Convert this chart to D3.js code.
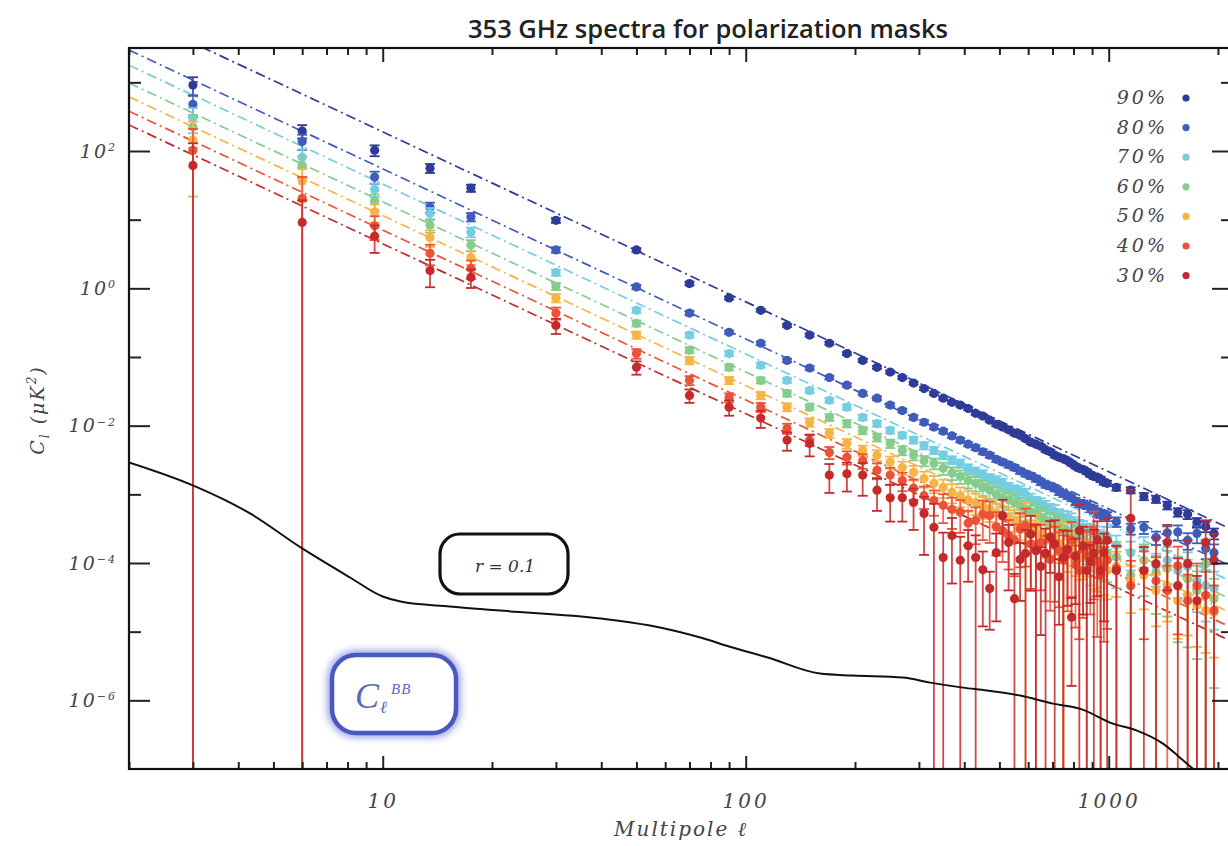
<!DOCTYPE html>
<html><head><meta charset="utf-8">
<script src="https://cdn.jsdelivr.net/npm/d3@7/dist/d3.min.js"></script>
<style>
body{margin:0;background:#fff;}
svg{display:block;}
</style></head>
<body><svg id="chart" width="1228" height="846"></svg>
<script>
// ---------------- data ----------------
const title = "353 GHz spectra for polarization masks";
const maskLabels = ["90%","80%","70%","60%","50%","40%","30%"];
const colors = ["#2e3b98","#3f5cbc","#74cde0","#86cc8c","#f6b444","#ec5236","#c42a2a"];

// multipole bin centres
const ells = [3,6,9.5,13.5,17.5,30,50,70,90,110,130,150,170,190,210,230,250,270,290,310,330,
  350,370,390,410,430,450,470,490,510,530,550,570,590,610,630,650,670,690,710,730,750,770,790,810,830,850,870,890,910,930,950,970,990,
  1050,1150,1250,1350,1450,1550,1650,1750,1850,1950];

// log10 of C_ell [uK^2] per mask
const log10Cl_90 = [2.96,2.29,2.01,1.75,1.46,0.99,0.56,0.07,-0.14,-0.32,-0.54,-0.68,-0.80,-0.95,-1.05,-1.15,-1.22,-1.30,-1.38,-1.46,-1.53,
  -1.60,-1.66,-1.70,-1.75,-1.82,-1.86,-1.92,-1.98,-2.02,-2.06,-2.11,-2.14,-2.19,-2.24,-2.27,-2.30,-2.35,-2.38,-2.43,-2.46,-2.48,-2.51,-2.55,-2.59,-2.62,-2.64,-2.67,-2.71,-2.74,-2.75,-2.78,-2.82,-2.84,
  -2.90,-2.94,-3.03,-3.07,-3.16,-3.26,-3.29,-3.41,-3.47,-3.57];
const log10Cl_80 = [2.68,2.14,1.62,1.18,1.04,0.56,0.02,-0.36,-0.64,-0.80,-1.05,-1.16,-1.30,-1.41,-1.53,-1.60,-1.70,-1.78,-1.88,-1.95,-2.02,
  -2.08,-2.15,-2.21,-2.27,-2.32,-2.38,-2.43,-2.49,-2.53,-2.57,-2.61,-2.66,-2.70,-2.73,-2.77,-2.82,-2.86,-2.88,-2.91,-2.96,-2.99,-3.02,-3.05,-3.10,-3.13,-3.14,-3.16,-3.20,-3.22,-3.26,-3.28,-3.30,-3.32,
  -3.40,-3.50,-3.48,-3.63,-3.56,-3.55,-3.67,-3.57,-3.79,-3.85];
const log10Cl_70 = [2.48,1.91,1.44,1.09,0.82,0.23,-0.32,-0.68,-0.95,-1.12,-1.34,-1.49,-1.63,-1.73,-1.88,-1.97,-2.07,-2.14,-2.21,-2.29,-2.36,
  -2.43,-2.50,-2.55,-2.62,-2.67,-2.71,-2.77,-2.80,-2.84,-2.90,-2.94,-2.96,-3.00,-3.07,-3.12,-3.14,-3.18,-3.23,-3.25,-3.31,-3.34,-3.35,-3.38,-3.44,-3.48,-3.50,-3.54,-3.55,-3.58,-3.64,-3.67,-3.60,-3.61,
  -3.74,-3.85,-3.79,-4.04,-3.96,-4.11,-4.05,-4.26,-4.33,-4.37];
const log10Cl_60 = [2.35,1.79,1.27,0.92,0.63,0.03,-0.51,-0.90,-1.15,-1.34,-1.53,-1.73,-1.88,-1.97,-2.07,-2.17,-2.26,-2.36,-2.43,-2.51,-2.55,
  -2.62,-2.69,-2.74,-2.80,-2.84,-2.90,-2.94,-3.00,-3.05,-3.08,-3.12,-3.17,-3.21,-3.25,-3.28,-3.33,-3.37,-3.41,-3.44,-3.46,-3.50,-3.55,-3.57,-3.62,-3.64,-3.66,-3.70,-3.74,-3.76,-3.77,-3.80,-3.84,-3.86,
  -3.91,-4.18,-3.96,-4.14,-4.08,-4.33,-4.23,-4.40,-4.01,-4.52];
const log10Cl_50 = [2.16,1.56,1.11,0.74,0.45,-0.14,-0.68,-1.05,-1.34,-1.56,-1.73,-1.95,-2.11,-2.26,-2.36,-2.43,-2.53,-2.61,-2.68,-2.77,-2.84,
  -2.90,-2.97,-3.02,-3.08,-3.12,-3.17,-3.21,-3.27,-3.31,-3.33,-3.38,-3.44,-3.50,-3.53,-3.45,-3.58,-3.67,-3.64,-3.60,-3.71,-3.79,-3.83,-3.74,-3.88,-3.93,-3.90,-3.85,-3.97,-4.01,-4.03,-3.96,-4.06,-4.11,
  -4.05,-4.26,-4.18,-4.40,-4.33,-4.55,-4.47,-4.62,-4.69,-4.72];
const log10Cl_40 = [2.01,1.31,0.91,0.51,0.29,-0.36,-0.95,-1.34,-1.59,-1.73,-2.04,-2.21,-2.39,-2.46,-2.51,-2.65,-2.72,-2.80,-2.91,-3.02,-3.09,
  -3.16,-3.22,-3.26,-3.42,-3.38,-3.29,-3.31,-3.47,-3.53,-3.60,-3.67,-3.51,-3.45,-3.72,-3.79,-3.70,-3.86,-3.95,-3.74,-3.82,-3.96,-3.88,-3.67,-4.02,-4.11,-3.80,-3.89,-3.75,-3.53,-3.98,-4.18,-4.05,-3.96,
  -4.08,-4.33,-4.11,-4.26,-4.40,-4.04,-4.55,-4.33,-4.47,-4.69];
const log10Cl_30 = [1.79,0.96,0.76,0.26,0.16,-0.54,-1.15,-1.56,-1.73,-1.89,-2.21,-2.26,-2.72,-2.70,-2.72,-2.94,-3.05,-3.05,-3.12,-3.28,-3.48,
  -3.92,-3.60,-3.96,-3.75,-3.92,-4.10,-4.37,-3.85,-3.31,-3.70,-4.52,-3.95,-3.86,-3.58,-3.82,-4.05,-3.86,-3.62,-3.72,-4.20,-3.92,-3.80,-4.79,-3.90,-3.53,-3.75,-4.11,-3.98,-3.86,-3.66,-4.11,-3.85,-3.67,
  -4.11,-3.35,-4.11,-4.01,-3.70,-4.33,-4.01,-4.55,-3.70,-3.96];

// fractional 1-sigma errors (sigma / C_ell); >= 1 means the lower bound is <= 0
const relErr_90 = [0.3,0.22,0.18,0.15,0.12,0.08,0.06,0.06,0.05,0.05,0.05,0.05,0.05,0.05,0.05,0.05,0.05,0.05,0.05,0.05,0.05,
  0.05,0.05,0.05,0.05,0.05,0.05,0.05,0.06,0.06,0.06,0.06,0.06,0.06,0.06,0.06,0.06,0.07,0.07,0.07,0.07,0.07,0.07,0.07,0.07,0.08,0.08,0.08,0.08,0.08,0.08,0.09,0.09,0.09,
  0.1,0.1,0.12,0.12,0.13,0.14,0.15,0.16,0.17,0.18];
const relErr_80 = [0.35,0.25,0.2,0.17,0.14,0.09,0.07,0.07,0.06,0.06,0.06,0.06,0.06,0.06,0.06,0.06,0.06,0.06,0.07,0.07,0.07,
  0.07,0.07,0.07,0.07,0.08,0.08,0.08,0.08,0.08,0.09,0.09,0.09,0.09,0.1,0.1,0.1,0.1,0.1,0.1,0.11,0.11,0.11,0.11,0.12,0.12,0.12,0.12,0.13,0.13,0.14,0.14,0.15,0.15,
  0.16,0.18,0.2,0.22,0.24,0.25,0.27,0.28,0.3,0.32];
const relErr_70 = [0.4,0.3,0.22,0.2,0.16,0.1,0.08,0.08,0.08,0.08,0.08,0.08,0.08,0.09,0.09,0.1,0.1,0.1,0.11,0.12,0.12,
  0.13,0.13,0.14,0.14,0.15,0.15,0.16,0.16,0.17,0.17,0.18,0.19,0.2,0.2,0.21,0.21,0.22,0.23,0.24,0.24,0.25,0.26,0.27,0.27,0.28,0.29,0.3,0.31,0.32,0.33,0.34,0.35,0.36,
  0.38,0.45,0.48,0.5,0.55,0.6,0.6,0.65,0.7,0.75];
const relErr_60 = [0.5,0.35,0.25,0.22,0.18,0.12,0.1,0.1,0.1,0.1,0.1,0.1,0.11,0.12,0.12,0.13,0.14,0.15,0.16,0.17,0.18,
  0.2,0.21,0.22,0.23,0.24,0.25,0.26,0.27,0.28,0.29,0.3,0.31,0.33,0.34,0.35,0.36,0.38,0.39,0.4,0.41,0.42,0.44,0.45,0.47,0.5,0.51,0.52,0.53,0.55,0.57,0.6,0.61,0.62,
  0.65,1.3,0.7,0.75,0.8,0.85,0.9,0.9,1.25,0.95];
const relErr_50 = [0.85,0.5,0.3,0.27,0.22,0.14,0.12,0.12,0.12,0.12,0.13,0.14,0.15,0.16,0.17,0.18,0.2,0.22,0.24,0.26,0.28,
  0.3,0.31,0.32,0.33,0.34,0.35,0.36,0.37,0.38,0.39,0.4,0.41,1.4,0.42,0.42,0.44,0.45,0.46,0.48,0.49,1.4,0.5,0.5,0.51,0.52,0.54,0.55,0.56,0.58,0.59,0.6,0.61,0.62,
  0.64,0.66,0.68,0.7,0.7,0.72,0.74,0.75,0.76,0.78];
const relErr_40 = [1.05,1.05,0.38,0.33,0.3,0.2,0.16,0.15,0.15,0.15,0.17,0.18,0.2,0.22,0.24,0.26,0.28,0.3,0.33,0.36,0.4,
  0.45,0.48,0.5,0.52,0.55,0.58,0.6,0.62,0.65,0.68,0.7,0.72,0.75,0.78,1.2,0.8,0.8,0.82,0.85,0.85,1.3,0.85,0.85,0.88,0.9,0.9,1.2,0.9,0.9,0.92,1.3,0.92,0.9,
  1.1,1.3,0.9,1.2,1.3,0.9,1.4,1.1,1.2,1.3];
const relErr_30 = [1.1,1.1,0.43,0.43,0.3,0.25,0.22,0.22,0.25,0.28,0.3,0.35,0.45,0.45,0.5,0.5,0.55,0.55,0.6,0.75,1.2,
  1.3,0.8,1.2,0.7,1.1,0.85,0.75,0.9,0.7,0.8,1.3,0.75,1.2,0.85,1.4,0.9,1.3,0.7,1.2,0.8,1.5,0.85,0.9,0.8,1.4,0.9,1.3,0.75,1.2,0.85,1.5,0.9,1.1,
  1.3,1.6,1.2,1.4,0.8,1.5,1.2,1.3,1.1,1.4];

// power-law fits (dash-dot lines): log10 C_ell at the two ends
const fitEll = [2, 2100];
const fitLog10_90 = [4.01,-3.47];
const fitLog10_80 = [3.47,-4.01];
const fitLog10_70 = [3.25,-4.23];
const fitLog10_60 = [2.99,-4.49];
const fitLog10_50 = [2.79,-4.69];
const fitLog10_40 = [2.58,-4.90];
const fitLog10_30 = [2.38,-5.10];

// r = 0.1 primordial + lensing BB model
const bbEll = [2,3,4.31,6,8.13,10,11.2,15.3,21,40,54.5,75,92,115,160,197,271,322,397,462,570,702,833,1027,1197,1411,1572,1729];
const bbLog10 = [-2.535,-2.870,-3.278,-3.788,-4.211,-4.488,-4.561,-4.634,-4.692,-4.809,-4.911,-5.086,-5.231,-5.377,-5.610,-5.639,-5.669,-5.742,-5.815,-5.858,-5.931,-6.048,-6.121,-6.339,-6.441,-6.631,-6.835,-7.024];

const xTickLabels = [10,100,1000];
const yTickExponents = [2,0,-2,-4,-6];
const yMinorExponents = [3,1,-1,-3,-5];

// ---------------- drawing ----------------
const M = {left:129, top:48, right:1233, bottom:769};
const svg = d3.select("#chart");
const x = d3.scaleLog().domain([2,2200]).range([M.left, M.right]);
const y = d3.scaleLog().domain([1e-7, Math.pow(10,3.5)]).range([M.bottom, M.top]);
const serifIt = "'DejaVu Serif', serif";

const defs = svg.append("defs");
defs.append("clipPath").attr("id","clip").append("rect")
  .attr("x",M.left).attr("y",M.top).attr("width",M.right-M.left).attr("height",M.bottom-M.top);
const glow = defs.append("filter").attr("id","glow").attr("x","-30%").attr("y","-30%").attr("width","160%").attr("height","160%");
glow.append("feGaussianBlur").attr("stdDeviation",3.5);

const logsAll = [log10Cl_90,log10Cl_80,log10Cl_70,log10Cl_60,log10Cl_50,log10Cl_40,log10Cl_30];
const errAll = [relErr_90,relErr_80,relErr_70,relErr_60,relErr_50,relErr_40,relErr_30];
const fitAll = [fitLog10_90,fitLog10_80,fitLog10_70,fitLog10_60,fitLog10_50,fitLog10_40,fitLog10_30];
const series = maskLabels.map((lab,i)=>({label:lab, color:colors[i], logs:logsAll[i], rel:errAll[i], fit:fitAll[i]}));

const plot = svg.append("g").attr("clip-path","url(#clip)");

// fit lines
const line = d3.line().x(d=>x(d[0])).y(d=>y(d[1]));
series.forEach(s=>{
  plot.append("path")
    .datum(fitEll.map((l,j)=>[l, Math.pow(10,s.fit[j])]))
    .attr("d", line)
    .attr("fill","none").attr("stroke",s.color).attr("stroke-width",1.7)
    .attr("stroke-dasharray","10,4,2,4");
});

// points with error bars
series.forEach(s=>{
  const g = plot.append("g");
  const data = ells.map((l,j)=>({l, v:Math.pow(10,s.logs[j]), r:s.rel[j]})).filter(d=>isFinite(d.v) && d.r!==undefined);
  g.selectAll("line.eb").data(data).join("line").attr("class","eb")
    .attr("x1",d=>x(d.l)).attr("x2",d=>x(d.l))
    .attr("y1",d=>y(d.v*(1+d.r)))
    .attr("y2",d=> d.r<1 ? y(d.v*(1-d.r)) : M.bottom+10)
    .attr("stroke",s.color).attr("stroke-width",1.8).attr("stroke-opacity",0.85);
  g.selectAll("line.cu").data(data).join("line").attr("class","cu")
    .attr("x1",d=>x(d.l)-5).attr("x2",d=>x(d.l)+5)
    .attr("y1",d=>y(d.v*(1+d.r))).attr("y2",d=>y(d.v*(1+d.r)))
    .attr("stroke",s.color).attr("stroke-width",1.8);
  g.selectAll("line.cl").data(data.filter(d=>d.r<1)).join("line").attr("class","cl")
    .attr("x1",d=>x(d.l)-5).attr("x2",d=>x(d.l)+5)
    .attr("y1",d=>y(d.v*(1-d.r))).attr("y2",d=>y(d.v*(1-d.r)))
    .attr("stroke",s.color).attr("stroke-width",1.8);
  g.selectAll("circle").data(data).join("circle")
    .attr("cx",d=>x(d.l)).attr("cy",d=>y(d.v)).attr("r",4.6)
    .attr("fill",s.color);
});

// BB model curve
plot.append("path")
  .datum(bbEll.map((l,j)=>[l, Math.pow(10,bbLog10[j])]))
  .attr("d", d3.line().x(d=>x(d[0])).y(d=>y(d[1])).curve(d3.curveMonotoneX))
  .attr("fill","none").attr("stroke","#111").attr("stroke-width",2);

// ---------------- axes ----------------
function styleAxis(g){
  g.select(".domain").remove();
  g.selectAll(".tick line").attr("stroke","#222").attr("stroke-width",2);
}
const minorX = x.ticks().filter(v=>xTickLabels.indexOf(v)<0);
svg.append("g").attr("transform",`translate(0,${M.bottom})`)
  .call(d3.axisBottom(x).tickValues(minorX).tickSize(-7).tickFormat(""))
  .call(styleAxis);
const gxb = svg.append("g").attr("transform",`translate(0,${M.bottom})`)
  .call(d3.axisBottom(x).tickValues(xTickLabels).tickSize(-13).tickPadding(25).tickFormat(d=>String(d)))
  .call(styleAxis);
gxb.selectAll("text").attr("font-family",serifIt).attr("font-style","italic")
  .attr("font-size",20).attr("letter-spacing",3).attr("fill","#444");
svg.append("g").attr("transform",`translate(0,${M.top})`)
  .call(d3.axisTop(x).tickValues(minorX).tickSize(-7).tickFormat(""))
  .call(styleAxis);
svg.append("g").attr("transform",`translate(0,${M.top})`)
  .call(d3.axisTop(x).tickValues(xTickLabels).tickSize(-14).tickFormat(""))
  .call(styleAxis);
const gyl = svg.append("g").attr("transform",`translate(${M.left},0)`)
  .call(d3.axisLeft(y).tickValues(yTickExponents.map(e=>Math.pow(10,e))).tickSize(-21).tickPadding(12).tickFormat(""))
  .call(styleAxis);
gyl.selectAll(".tick text").each(function(d,i){
  const t = d3.select(this);
  t.attr("font-family",serifIt).attr("font-style","italic").attr("font-size",19).attr("fill","#444").attr("letter-spacing",2);
  t.append("tspan").text("10");
  const e = yTickExponents[i];
  t.append("tspan").attr("dy","-0.6em").attr("font-size",11).text(e<0 ? "\u2212"+(-e) : String(e));
});
svg.append("g").attr("transform",`translate(${M.left},0)`)
  .call(d3.axisLeft(y).tickValues(yMinorExponents.map(e=>Math.pow(10,e))).tickSize(-12).tickFormat(""))
  .call(styleAxis);
svg.append("g").attr("transform",`translate(${M.right},0)`)
  .call(d3.axisRight(y).tickValues(yTickExponents.map(e=>Math.pow(10,e))).tickSize(-21).tickFormat(""))
  .call(styleAxis);
svg.append("g").attr("transform",`translate(${M.right},0)`)
  .call(d3.axisRight(y).tickValues(yMinorExponents.map(e=>Math.pow(10,e))).tickSize(-12).tickFormat(""))
  .call(styleAxis);
svg.append("rect").attr("x",M.left).attr("y",M.top).attr("width",M.right-M.left).attr("height",M.bottom-M.top)
  .attr("fill","none").attr("stroke","#111").attr("stroke-width",2.2);

// ---------------- texts ----------------
svg.append("text").attr("x",708).attr("y",38).attr("text-anchor","middle")
  .attr("font-family","'Open Sans', sans-serif").attr("font-weight",600).attr("font-size",25.5).attr("fill","#222")
  .text(title);

svg.append("text").attr("x",681).attr("y",836).attr("text-anchor","middle")
  .attr("font-family",serifIt).attr("font-style","italic").attr("font-size",20).attr("letter-spacing",2).attr("fill","#444")
  .text("Multipole \u2113");

const yl = svg.append("text").attr("transform","translate(44,410) rotate(-90)").attr("text-anchor","middle")
  .attr("font-family",serifIt).attr("font-style","italic").attr("font-size",19).attr("letter-spacing",2).attr("fill","#444");
yl.append("tspan").text("C");
yl.append("tspan").attr("dy",5).attr("font-size",12).text("l");
yl.append("tspan").attr("dy",-5).text(" (\u03bcK");
yl.append("tspan").attr("dy",-8).attr("font-size",12).text("2");
yl.append("tspan").attr("dy",8).text(")");

const lg = svg.append("g");
series.forEach((s,i)=>{
  const yy = 98 + i*29.6;
  lg.append("text").attr("x",1168).attr("y",yy+6).attr("text-anchor","end")
    .attr("font-family",serifIt).attr("font-style","italic").attr("font-size",19).attr("letter-spacing",3).attr("fill","#444")
    .text(s.label);
  lg.append("circle").attr("cx",1186).attr("cy",yy).attr("r",3.6).attr("fill",s.color);
});

svg.append("rect").attr("x",440).attr("y",534).attr("width",128).attr("height",60).attr("rx",20)
  .attr("fill","#fff").attr("stroke","#111").attr("stroke-width",3.2);
svg.append("text").attr("x",505).attr("y",572).attr("text-anchor","middle")
  .attr("font-family",serifIt).attr("font-style","italic").attr("font-size",17).attr("fill","#333")
  .text("r = 0.1");

svg.append("rect").attr("x",332).attr("y",655).attr("width",124).attr("height",78).attr("rx",24)
  .attr("fill","none").attr("stroke","#8792e0").attr("stroke-width",10).attr("filter","url(#glow)").attr("opacity",0.8);
svg.append("rect").attr("x",332).attr("y",655).attr("width",124).attr("height",78).attr("rx",24)
  .attr("fill","#fff").attr("stroke","#4a58c0").attr("stroke-width",4.5);
svg.append("text").attr("x",355).attr("y",708)
  .attr("font-family","'Liberation Serif', serif").attr("font-style","italic").attr("font-size",36).attr("fill","#5a68b8")
  .text("C");
svg.append("text").attr("x",380).attr("y",713)
  .attr("font-family","'Liberation Serif', serif").attr("font-style","italic").attr("font-size",17).attr("fill","#5a68b8")
  .text("\u2113");
svg.append("text").attr("x",391).attr("y",694)
  .attr("font-family","'Liberation Serif', serif").attr("font-style","italic").attr("font-size",15).attr("letter-spacing",1).attr("fill","#5a68b8")
  .text("BB");
</script>
</body></html>
